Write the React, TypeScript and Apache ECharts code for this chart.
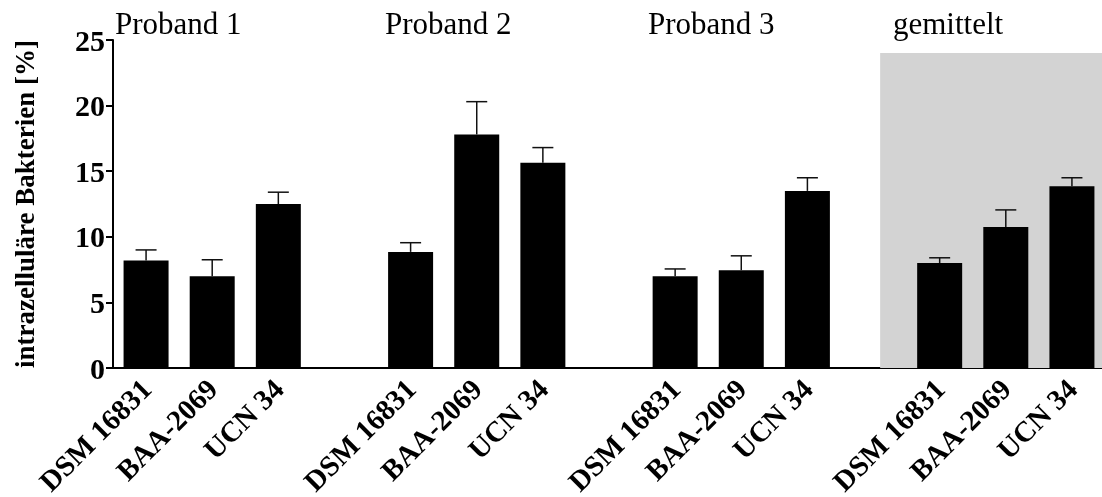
import React, { useEffect, useRef } from "react";
import * as echarts from "echarts";

const strains = ["DSM 16831", "BAA-2069", "UCN 34"];
const groupNames = ["Proband 1", "Proband 2", "Proband 3", "gemittelt"];
const proband1Mean = [8.2, 7.0, 12.5];
const proband1Err = [0.8, 1.25, 0.9];
const proband2Mean = [8.85, 17.8, 15.65];
const proband2Err = [0.7, 2.5, 1.15];
const proband3Mean = [7.0, 7.45, 13.5];
const proband3Err = [0.55, 1.1, 1.0];
const averageMean = [8.0, 10.75, 13.85];
const averageErr = [0.4, 1.3, 0.65];
const yTicks = [0, 5, 10, 15, 20, 25];
const shadedRange = { fromIndex: 11.1, toIndex: 14.6, top: 24 };

const groupMeans = [proband1Mean, proband2Mean, proband3Mean, averageMean];
const groupErrs = [proband1Err, proband2Err, proband3Err, averageErr];

export default function App() {
  const ref = useRef<HTMLDivElement>(null);
  useEffect(() => {
    if (!ref.current) return;
    const chart = echarts.init(ref.current, undefined, { renderer: "svg" });

    const categories: string[] = [];
    const barData: (number | string)[] = [];
    const errData: number[][] = [];
    groupMeans.forEach((means, g) => {
      if (g > 0) {
        categories.push(" ".repeat(g));
        barData.push("-");
      }
      means.forEach((m, i) => {
        const idx = categories.length;
        categories.push(strains[i] + "\u200b".repeat(g));
        barData.push(m);
        errData.push([idx, m, m + groupErrs[g][i]]);
      });
    });

    const serif = "'Liberation Serif', 'Times New Roman', serif";
    const labelPos = [115, 385, 648, 893];

    chart.setOption({
      animation: false,
      grid: {
        left: 113,
        right: -3,
        top: 40,
        bottom: 129,
        containLabel: false,
        outerBoundsMode: "none",
      },
      xAxis: [
        {
          type: "category",
          data: categories,
          axisTick: { show: false },
          axisLine: { lineStyle: { color: "#000", width: 2 } },
          axisLabel: {
            interval: 0,
            rotate: 45,
            margin: 16,
            color: "#000",
            fontFamily: serif,
            fontWeight: "bold",
            fontSize: 29,
            formatter: (v: string) => v.replace(/\u200b/g, "").trim(),
          },
        },
        { type: "value", min: -0.5, max: 14.5, show: false },
      ],
      yAxis: {
        type: "value",
        min: yTicks[0],
        max: yTicks[yTicks.length - 1],
        interval: 5,
        splitLine: { show: false },
        axisLine: { show: true, onZero: false, lineStyle: { color: "#000", width: 2 } },
        axisTick: { show: true, length: 7, lineStyle: { color: "#000", width: 2 } },
        axisLabel: {
          color: "#000",
          fontFamily: serif,
          fontWeight: "bold",
          fontSize: 30,
          margin: 8,
        },
        name: "intrazelluläre Bakterien [%]",
        nameLocation: "middle",
        nameGap: 75,
        nameTextStyle: {
          color: "#000",
          fontFamily: serif,
          fontWeight: "bold",
          fontSize: 27,
        },
      },
      series: [
        {
          type: "line",
          xAxisIndex: 1,
          yAxisIndex: 0,
          data: [[shadedRange.fromIndex, 0]],
          showSymbol: false,
          lineStyle: { opacity: 0 },
          z: 0,
          silent: true,
          markArea: {
            silent: true,
            itemStyle: { color: "#d3d3d3" },
            data: [
              [
                { coord: [shadedRange.fromIndex, 0] },
                { coord: [shadedRange.toIndex, shadedRange.top] },
              ],
            ],
          },
        },
        {
          type: "bar",
          data: barData,
          barWidth: 45,
          itemStyle: { color: "#000" },
          z: 2,
        },
        {
          type: "custom",
          data: errData,
          z: 3,
          encode: { x: 0, y: [1, 2] },
          renderItem: (params: any, api: any) => {
            const x = api.value(0);
            const lo = api.coord([x, api.value(1)]);
            const hi = api.coord([x, api.value(2)]);
            const half = 10.5;
            return {
              type: "group",
              children: [
                {
                  type: "line",
                  shape: { x1: lo[0], y1: lo[1], x2: hi[0], y2: hi[1] },
                  style: { stroke: "#111", lineWidth: 1.5 },
                },
                {
                  type: "line",
                  shape: { x1: hi[0] - half, y1: hi[1], x2: hi[0] + half, y2: hi[1] },
                  style: { stroke: "#111", lineWidth: 1.5 },
                },
              ],
            };
          },
        },
      ],
      graphic: groupNames.map((name, i) => ({
        type: "text",
        left: labelPos[i],
        top: 8,
        style: {
          text: name,
          fill: "#000",
          font: `31px ${serif}`,
        },
      })),
    });
    return () => chart.dispose();
  }, []);
  return (
    <div
      ref={ref}
      style={{ position: "fixed", left: 0, top: 0, width: 1102, height: 497 }}
    />
  );
}
